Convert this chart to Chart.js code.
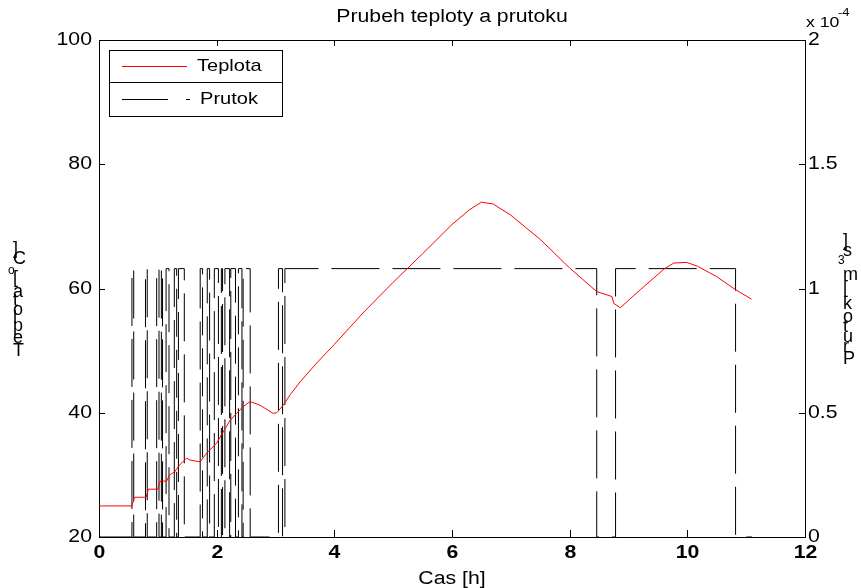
<!DOCTYPE html>
<html>
<head>
<meta charset="utf-8">
<script src="https://cdn.jsdelivr.net/npm/chart.js@4/dist/chart.umd.min.js"></script>
<style>
  body { margin: 0; background: #fff; }
  #wrap { width: 861px; height: 588px; }
</style>
</head>
<body>
<div id="wrap"><canvas id="chart" width="861" height="588"></canvas></div>
<script>
// Teplota (temperature) over time [h] -> [oC]
const tempTimes = [0, 0.56, 0.60, 0.80, 0.84, 1.00, 1.04, 1.15, 1.20, 1.29, 1.35, 1.49, 1.54, 1.72, 1.83,
  2.00, 2.11, 2.23, 2.34, 2.45, 2.57, 2.74, 2.96, 3.02, 3.13, 3.25, 3.42, 3.70, 4.00, 4.50, 5.00,
  5.50, 6.00, 6.30, 6.50, 6.70, 7.00, 7.50, 8.00, 8.46, 8.72, 8.75, 8.86, 9.20, 9.60, 9.77, 9.99,
  10.17, 10.50, 10.82, 11.09];
const tempValues = [25, 25, 26.4, 26.4, 27.7, 27.7, 29.0, 29.0, 30.0, 30.5, 31.4, 32.7, 32.4, 32.1, 33.5,
  35.1, 36.9, 38.8, 39.9, 41.0, 41.8, 41.2, 39.9, 40.0, 41.2, 42.9, 45.0, 48.0, 51.0, 56.2, 61.0,
  65.6, 70.3, 72.7, 73.9, 73.6, 71.8, 67.9, 63.3, 59.5, 58.7, 57.6, 56.9, 59.8, 63.1, 64.1, 64.2,
  63.6, 61.9, 59.8, 58.3];

// Prutok (flow) switching times [h] and the value held from that time on [m3/s]
const flowTimes = [0, 0.56, 0.59, 0.79, 0.82, 0.98, 1.02, 1.06, 1.08, 1.14, 1.19, 1.28, 1.32, 1.35, 1.45,
  1.72, 1.76, 1.84, 1.88, 1.96, 2.03, 2.08, 2.10, 2.14, 2.22, 2.24, 2.32, 2.37, 2.43, 2.45, 2.57,
  3.05, 3.12, 3.16, 8.46, 8.78, 10.82, 11.10];
const flowOn = 1.08e-4;
const flowValues = [0, flowOn, 0, flowOn, 0, flowOn, 0, flowOn, 0, flowOn, 0, flowOn, 0, flowOn, 0,
  flowOn, 0, flowOn, 0, flowOn, 0, flowOn, 0, flowOn, 0, flowOn, 0, flowOn, 0, flowOn, 0,
  flowOn, 0, flowOn, 0, flowOn, 0, 0];

// Axis ranges and ticks
const xRange = [0, 12], xStep = 2;
const yLeftRange = [20, 100], yLeftStep = 20;
const yRightRange = [0, 2e-4], yRightStep = 0.5e-4;

const chartTitle = 'Prubeh teploty a prutoku';
const xTitle = 'Cas [h]';
const legendLabels = ['Teplota', 'Prutok'];

// text in the reference is a bit wider than normal
const stretch = 1.18;
const fontFamily = '"Liberation Sans", Arial, sans-serif';

function drawText(ctx, str, x, y, align, font) {
  ctx.save();
  ctx.font = font;
  ctx.textAlign = align;
  ctx.textBaseline = 'middle';
  ctx.translate(x, y);
  ctx.scale(stretch, 1);
  ctx.fillText(str, 0, 0);
  ctx.restore();
}

// draws a label the way the rotated text came out: upright glyphs stacked upwards
function drawStacked(ctx, parts, leftX, bottomY, topY) {
  const bigFont = '18px ' + fontFamily, supFont = '12px ' + fontFamily;
  const glyphs = [];
  let total = 0;
  parts.forEach(p => {
    ctx.font = p.sup ? supFont : bigFont;
    for (const ch of p.t) {
      const w = ctx.measureText(ch).width;
      glyphs.push({ ch, w, sup: p.sup, pos: total });
      total += w;
    }
  });
  const k = (bottomY - topY) / total;
  ctx.save();
  ctx.fillStyle = '#000';
  ctx.textBaseline = 'middle';
  ctx.textAlign = 'left';
  glyphs.forEach(g => {
    if (g.ch === ' ') return;
    ctx.font = g.sup ? supFont : bigFont;
    const cy = bottomY - (g.pos + g.w / 2) * k;
    ctx.fillText(g.ch, g.sup ? leftX - 5 : leftX, cy);
  });
  ctx.restore();
}

const decorations = {
  id: 'decorations',
  afterDraw(chart) {
    const { ctx, chartArea: a, scales } = chart;
    ctx.save();
    ctx.strokeStyle = '#000';
    ctx.fillStyle = '#000';
    ctx.lineWidth = 1;

    // top edge of the box
    ctx.beginPath();
    ctx.moveTo(a.left, a.top + 0.5);
    ctx.lineTo(a.right, a.top + 0.5);
    ctx.stroke();

    // x ticks (inward, bottom and top) and labels
    scales.x.ticks.forEach(t => {
      const px = Math.round(scales.x.getPixelForValue(t.value)) + 0.5;
      ctx.beginPath();
      ctx.moveTo(px, a.bottom); ctx.lineTo(px, a.bottom - 7);
      ctx.moveTo(px, a.top); ctx.lineTo(px, a.top + 6);
      ctx.stroke();
      drawText(ctx, String(t.value), px, 553, 'center', 'bold 18px ' + fontFamily);
    });

    // left y ticks and labels
    scales.y.ticks.forEach(t => {
      const py = Math.round(scales.y.getPixelForValue(t.value)) + 0.5;
      ctx.beginPath();
      ctx.moveTo(a.left, py); ctx.lineTo(a.left + 6, py);
      ctx.stroke();
      drawText(ctx, String(t.value), 92, py, 'right', '18px ' + fontFamily);
    });

    // right y ticks and labels (scaled by 10^-4)
    scales.y1.ticks.forEach(t => {
      const py = Math.round(scales.y1.getPixelForValue(t.value)) + 0.5;
      ctx.beginPath();
      ctx.moveTo(a.right, py); ctx.lineTo(a.right - 6, py);
      ctx.stroke();
      drawText(ctx, String(Number((t.value * 1e4).toFixed(2))), 808, py, 'left', '18px ' + fontFamily);
    });
    drawText(ctx, 'x 10', 806, 23, 'left', '15px ' + fontFamily);
    drawText(ctx, '-4', 838, 13, 'left', '11px ' + fontFamily);

    // titles
    drawText(ctx, chartTitle, (a.left + a.right) / 2, 17, 'center', '18px ' + fontFamily);
    drawText(ctx, xTitle, (a.left + a.right) / 2, 579, 'center', '18px ' + fontFamily);
    drawStacked(ctx, [{ t: 'Teplota [' }, { t: 'o', sup: true }, { t: 'C]' }], 13, 357, 246);
    drawStacked(ctx, [{ t: 'Prutok [m' }, { t: '3', sup: true }, { t: 's]' }], 843, 367, 238);

    // legend box
    const lx = 109.5, ly = 50.5, lw = 173, lh = 66;
    ctx.fillStyle = '#fff';
    ctx.fillRect(lx, ly, lw, lh);
    ctx.strokeRect(lx, ly, lw, lh);
    ctx.beginPath();
    ctx.moveTo(lx, 82.5); ctx.lineTo(lx + lw, 82.5);
    ctx.stroke();
    ctx.strokeStyle = '#ff0000';
    ctx.beginPath();
    ctx.moveTo(122, 66.5); ctx.lineTo(187, 66.5);
    ctx.stroke();
    ctx.strokeStyle = '#000';
    ctx.setLineDash([46, 18]);
    ctx.beginPath();
    ctx.moveTo(122, 99.5); ctx.lineTo(190, 99.5);
    ctx.stroke();
    ctx.setLineDash([]);
    ctx.fillStyle = '#000';
    drawText(ctx, legendLabels[0], 197, 66, 'left', '17px ' + fontFamily);
    drawText(ctx, legendLabels[1], 200, 99, 'left', '17px ' + fontFamily);

    ctx.restore();
  }
};

const zeroWidth = s => { s.width = 0; };
const zeroHeight = s => { s.height = 0; };

new Chart(document.getElementById('chart'), {
  type: 'line',
  data: {
    datasets: [{
      label: legendLabels[0],
      data: tempTimes.map((t, i) => ({ x: t, y: tempValues[i] })),
      yAxisID: 'y',
      borderColor: '#ff0000',
      borderWidth: 1,
      pointRadius: 0,
      tension: 0
    }, {
      label: legendLabels[1],
      data: flowTimes.map((t, i) => ({ x: t, y: flowValues[i] })),
      yAxisID: 'y1',
      borderColor: '#000000',
      borderWidth: 1,
      borderDash: [48, 13],
      pointRadius: 0,
      stepped: true
    }]
  },
  options: {
    responsive: false,
    animation: false,
    devicePixelRatio: 1,
    layout: { padding: { left: 99, right: 56, top: 40, bottom: 51 } },
    plugins: { legend: { display: false }, tooltip: { enabled: false } },
    scales: {
      x: {
        type: 'linear', min: xRange[0], max: xRange[1],
        ticks: { display: false, stepSize: xStep },
        grid: { display: false, drawTicks: false },
        border: { display: true, color: '#000', width: 1 },
        afterFit: zeroHeight
      },
      y: {
        position: 'left', min: yLeftRange[0], max: yLeftRange[1],
        ticks: { display: false, stepSize: yLeftStep },
        grid: { display: false, drawTicks: false },
        border: { display: true, color: '#000', width: 1 },
        afterFit: zeroWidth
      },
      y1: {
        position: 'right', min: yRightRange[0], max: yRightRange[1],
        ticks: { display: false, stepSize: yRightStep },
        grid: { display: false, drawTicks: false },
        border: { display: true, color: '#000', width: 1 },
        afterFit: zeroWidth
      }
    }
  },
  plugins: [decorations]
});
</script>
</body>
</html>
